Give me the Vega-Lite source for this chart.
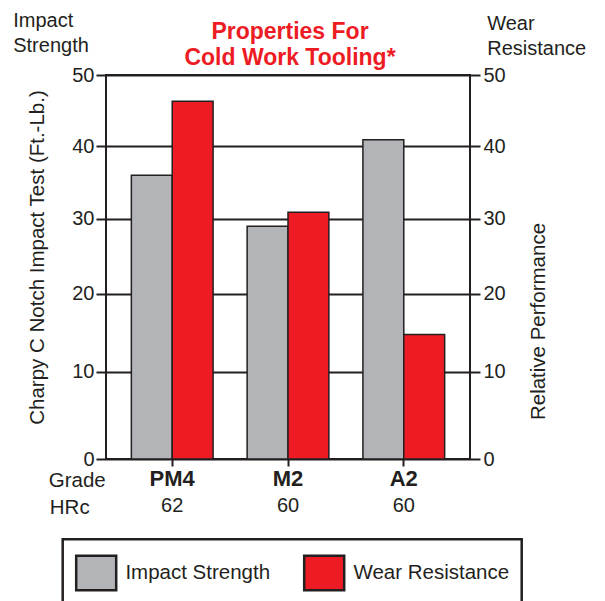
{
  "$schema": "https://vega.github.io/schema/vega-lite/v6.json",
  "width": 364,
  "height": 384,
  "autosize": {"type": "none"},
  "padding": {"left": 106, "top": 75, "right": 135, "bottom": 142},
  "background": "white",
  "config": {
    "font": "Liberation Sans",
    "view": {"stroke": "#231f20", "strokeWidth": 2},
    "axis": {
      "labelFont": "Liberation Sans",
      "titleFont": "Liberation Sans",
      "labelColor": "#231f20",
      "titleColor": "#231f20",
      "tickColor": "#231f20",
      "tickWidth": 2,
      "titleFontWeight": "normal",
      "labelFontSize": 20,
      "titleFontSize": 20.5,
      "domain": false
    },
    "legend": {"strokeWidth": 2.5}
  },
  "title": {
    "text": ["Properties For", "Cold Work Tooling*"],
    "color": "#ed1c24",
    "fontSize": 23,
    "fontWeight": "bold",
    "font": "Liberation Sans",
    "lineHeight": 25.7,
    "anchor": "middle",
    "frame": "group",
    "offset": 0,
    "dx": 2,
    "dy": 60
  },
  "data": {
    "values": [
      {"Grade": "PM4", "HRc": "62", "Series": "Impact Strength", "Value": 36.0},
      {"Grade": "PM4", "HRc": "62", "Series": "Wear Resistance", "Value": 46.3},
      {"Grade": "M2", "HRc": "60", "Series": "Impact Strength", "Value": 29.0},
      {"Grade": "M2", "HRc": "60", "Series": "Wear Resistance", "Value": 30.9},
      {"Grade": "A2", "HRc": "60", "Series": "Impact Strength", "Value": 40.9},
      {"Grade": "A2", "HRc": "60", "Series": "Wear Resistance", "Value": 14.7}
    ]
  },
  "layer": [
    {
      "transform": [{"filter": "datum.Series == 'Impact Strength'"}],
      "mark": {"type": "bar", "stroke": "#231f20", "strokeWidth": 1.5},
      "encoding": {
        "x": {
          "field": "Grade", "type": "nominal", "sort": ["PM4", "M2", "A2"],
          "scale": {"paddingInner": 0.294, "paddingOuter": 0.219},
          "axis": {
            "orient": "bottom", "title": "Grade", "titleX": -57.7, "titleY": 27.7,
            "titleAlign": "left", "titleBaseline": "alphabetic",
            "labelFontSize": 22, "labelFontWeight": "bold", "labelBaseline": "alphabetic",
            "labelPadding": 19, "tickSize": 7, "labelAngle": 0, "grid": false
          }
        },
        "xOffset": {"field": "Series", "type": "nominal", "scale": {"domain": ["Impact Strength", "Wear Resistance"]}},
        "y": {
          "field": "Value", "type": "quantitative",
          "scale": {"type": "pow", "exponent": 0.92, "domain": [0, 50], "nice": false},
          "axis": {
            "orient": "left", "values": [0, 10, 20, 30, 40, 50], "grid": true,
            "gridColor": "#231f20", "gridWidth": 2, "gridOpacity": 1,
            "tickSize": 10, "labelPadding": 2,
            "title": "Charpy C Notch Impact Test (Ft.-Lb.)", "titleAngle": 270,
            "titleX": -63, "titleY": 182, "titleAlign": "center", "titleBaseline": "alphabetic"
          }
        },
        "color": {
          "field": "Series", "type": "nominal",
          "scale": {"domain": ["Impact Strength", "Wear Resistance"], "range": ["#b3b4b8", "#ed1c24"]},
          "legend": {
            "orient": "none", "legendX": -43.3, "legendY": 464.3, "direction": "horizontal",
            "title": null, "symbolType": "M-1,-0.86H1V0.86H-1Z", "symbolSize": 1600,
            "symbolStrokeColor": "#231f20", "symbolStrokeWidth": 2.5, "symbolOpacity": 1,
            "labelFontSize": 20.5, "labelFont": "Liberation Sans", "labelColor": "#231f20",
            "labelOffset": 7.7, "columnPadding": 28, "padding": 12,
            "strokeColor": "#231f20", "fillColor": "white", "labelLimit": 300
          }
        }
      }
    },
    {
      "transform": [{"filter": "datum.Series == 'Wear Resistance'"}],
      "mark": {"type": "bar", "stroke": "#231f20", "strokeWidth": 1.5},
      "encoding": {
        "x": {
          "field": "Grade", "type": "nominal", "sort": ["PM4", "M2", "A2"],
          "scale": {"paddingInner": 0.294, "paddingOuter": 0.219},
          "axis": {
            "orient": "bottom", "title": "HRc", "titleX": -56.7, "titleY": 54.3,
            "titleAlign": "left", "titleBaseline": "alphabetic",
            "labelExpr": "datum.value == 'PM4' ? '62' : '60'",
            "labelFontSize": 20, "labelFontWeight": "normal", "labelBaseline": "alphabetic",
            "labelPadding": 52, "ticks": false, "labelAngle": 0, "grid": false
          }
        },
        "xOffset": {"field": "Series", "type": "nominal", "scale": {"domain": ["Impact Strength", "Wear Resistance"]}},
        "y": {
          "field": "Value", "type": "quantitative",
          "scale": {"type": "pow", "exponent": 0.92, "domain": [0, 50], "nice": false},
          "axis": {
            "orient": "right", "values": [0, 10, 20, 30, 40, 50], "grid": false,
            "tickSize": 10, "labelPadding": 3,
            "title": "Relative Performance", "titleAngle": 270,
            "titleX": 74.5, "titleY": 246, "titleAlign": "center", "titleBaseline": "alphabetic"
          }
        },
        "color": {"field": "Series", "type": "nominal"}
      }
    },
    {
      "mark": {"type": "point", "opacity": 0},
      "encoding": {
        "x": {"field": "Grade", "type": "nominal", "sort": ["PM4", "M2", "A2"], "axis": null},
        "y": {
          "field": "Value", "type": "quantitative",
          "scale": {"type": "pow", "exponent": 0.92, "domain": [0, 50], "nice": false},
          "axis": {
            "orient": "left", "labels": false, "ticks": false, "grid": false,
            "title": ["Impact", "Strength"], "titleAngle": 0, "titleX": -93.3, "titleY": -49,
            "titleAlign": "left", "titleBaseline": "alphabetic", "titleLineHeight": 25.7, "titleFontSize": 20
          }
        }
      }
    },
    {
      "mark": {"type": "point", "opacity": 0},
      "encoding": {
        "x": {"field": "Grade", "type": "nominal", "sort": ["PM4", "M2", "A2"], "axis": null},
        "y": {
          "field": "Value", "type": "quantitative",
          "scale": {"type": "pow", "exponent": 0.92, "domain": [0, 50], "nice": false},
          "axis": {
            "orient": "right", "labels": false, "ticks": false, "grid": false,
            "title": ["Wear", "Resistance"], "titleAngle": 0, "titleX": 16.7, "titleY": -45.7,
            "titleAlign": "left", "titleBaseline": "alphabetic", "titleLineHeight": 25.7, "titleFontSize": 20
          }
        }
      }
    }
  ],
  "resolve": {"axis": {"x": "independent", "y": "independent"}}
}
